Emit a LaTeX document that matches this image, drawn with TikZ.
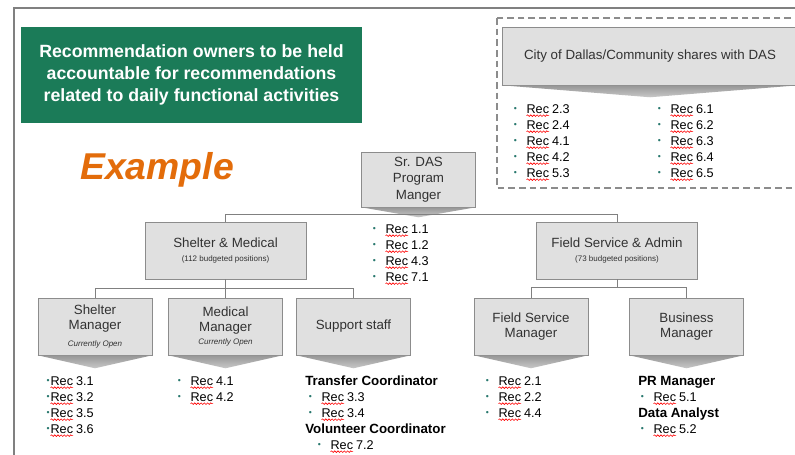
\documentclass[tikz,border=0pt]{standalone}
\usepackage{fontspec}
\setmainfont{Liberation Sans}
\usetikzlibrary{decorations.pathmorphing}

\definecolor{boxfill}{RGB}{224,224,224}
\definecolor{boxline}{RGB}{140,140,140}
\definecolor{chevgray}{RGB}{150,150,150}
\definecolor{chevlight}{RGB}{200,200,200}
\definecolor{linegray}{RGB}{128,128,128}
\definecolor{dasgreen}{RGB}{27,123,88}
\definecolor{exorange}{RGB}{227,108,10}
\definecolor{bulteal}{RGB}{40,120,110}
\definecolor{boxtext}{RGB}{50,50,50}

\tikzset{
  box/.style={draw=boxline,fill=boxfill,text=boxtext,align=center,inner sep=0pt,
    minimum width=85.5pt,minimum height=42.75pt,font=\fontsize{10}{11.8}\selectfont},
  wide/.style={box,minimum width=120.75pt},
  conn/.style={draw=linegray,line width=.6pt},
  rec/.style={anchor=base west,inner sep=0pt,font=\fontsize{9.5}{12}\selectfont},
  head/.style={anchor=base west,inner sep=0pt,font=\fontsize{10}{12}\selectfont\bfseries},
  spell/.style={draw=red,line width=.45pt,decorate,
    decoration={snake,amplitude=.6pt,segment length=2.4pt}}
}
\newcommand{\rec}[1]{\tikz[baseline=(recw.base)]{\node[inner sep=0pt,outer sep=0pt] (recw) {Rec};
  \path[spell] ([yshift=-2pt]recw.base west) -- ([yshift=-2pt]recw.base east);}\hspace{2pt}#1}
\newcommand{\bul}[1]{\llap{\textcolor{bulteal}{\fontsize{6.5}{6.5}\selectfont\raisebox{.8pt}{•}}\hspace{#1}}}
\newcommand{\chev}[2]{\shade[top color=chevgray,bottom color=chevlight] (#1.south west) -- ([yshift=-#2]#1.south) -- (#1.south east) -- cycle;}
\newcommand{\tinytxt}{\fontsize{6}{7}\selectfont}

\begin{document}
\begin{tikzpicture}[x=.75pt,y=-.75pt]
\path[use as bounding box,clip] (0,0) rectangle (795,454);
\fill[white] (0,0) rectangle (795,454);
\draw[linegray,line width=1.5pt] (14,460) -- (14,8) -- (800,8);

% banner
\node[fill=dasgreen,text=white,minimum width=255.75pt,minimum height=72pt,align=center,
  font=\fontsize{13.3}{16.5}\selectfont\bfseries] (note) at (191.5,75)
  {Recommendation owners to be held\\accountable for recommendations\\related to daily functional activities};
\node[text=exorange,font=\fontsize{28}{30}\selectfont\bfseries\itshape] (tag) at (157,170) {Example};

% shared with the city
\draw[boxline,line width=.8pt,dash pattern=on 5pt off 3pt] (497,18) rectangle (810,188);
\node[box,minimum width=222pt,minimum height=43.5pt] (city) at (650,56) {City of Dallas/Community shares with DAS};
\chev{city}{9pt}
\foreach \r [count=\i] in {2.3,2.4,4.1,4.2,5.3}
  \node[rec] (ca\i) at (526,97+16*\i) {\bul{7pt}\rec{\r}};
\foreach \i in {1,...,5}
  \node[rec] (cb\i) at (670,97+16*\i) {\bul{7pt}\rec{6.\i}};

% top of the chart
\node[box,minimum height=41.25pt,font=\fontsize{10}{12.2}\selectfont] (sr) at (418.5,179.5) {Sr. DAS\\Program\\Manger};
\chev{sr}{7.5pt}
\foreach \r [count=\i] in {1.1,1.2,4.3,7.1}
  \node[rec] (sa\i) at (385,217+16*\i) {\bul{7pt}\rec{\r}};

\node[wide] (sm) at (225.5,250.5) {Shelter \& Medical\\[-1pt]{\tinytxt (112 budgeted positions)}};
\node[wide] (fsa) at (617,250.5) {Field Service \& Admin\\[-1pt]{\tinytxt (73 budgeted positions)}};

\draw[conn] (sm.north) -- ++(0,-7) -| (fsa.north);

% shelter & medical side
\node[box] (shm) at (95,326.5) {Shelter\\Manager\\[1pt]{\tinytxt\itshape Currently Open}};
\node[box] (medm) at (225.5,326.5) {Medical\\Manager\\[-2pt]{\tinytxt\itshape Currently Open}};
\node[box] (sup) at (353.5,326.5) {Support staff};
\chev{shm}{9.75pt}
\chev{medm}{9.75pt}
\chev{sup}{9.75pt}

\draw[conn] (sm.south) -- ++(0,9) -| (shm.north);
\draw[conn] (sm.south) -- ++(0,9) -| (sup.north);
\draw[conn] (sm.south) -- (medm.north);

\foreach \r [count=\i] in {3.1,3.2,3.5,3.6}
  \node[rec] (sl\i) at (50,369+16*\i) {\bul{.5pt}\rec{\r}};
\foreach \r [count=\i] in {4.1,4.2}
  \node[rec] (ml\i) at (190,369+16*\i) {\bul{7pt}\rec{\r}};
\node[head] (tc) at (305,385) {Transfer Coordinator};
\node[rec] (tc1) at (321,401) {\bul{7pt}\rec{3.3}};
\node[rec] (tc2) at (321,417) {\bul{7pt}\rec{3.4}};
\node[head] (vc) at (305,433) {Volunteer Coordinator};
\node[rec] (vc1) at (330,449) {\bul{7pt}\rec{7.2}};

% field service & admin side
\node[box] (fsm) at (531,326.5) {Field Service\\Manager};
\node[box] (bm) at (686.5,326.5) {Business\\Manager};
\chev{fsm}{9.75pt}
\chev{bm}{9.75pt}

\draw[conn] (fsa.south) -- ++(0,8) -| (fsm.north);
\draw[conn] (fsa.south) -- ++(0,8) -| (bm.north);

\foreach \r [count=\i] in {2.1,2.2,4.4}
  \node[rec] (fl\i) at (498,369+16*\i) {\bul{7pt}\rec{\r}};
\node[head] (pr) at (638,385) {PR Manager};
\node[rec] (pr1) at (653,401) {\bul{7pt}\rec{5.1}};
\node[head] (da) at (638,417) {Data Analyst};
\node[rec] (da1) at (653,433) {\bul{7pt}\rec{5.2}};
\end{tikzpicture}
\end{document}
